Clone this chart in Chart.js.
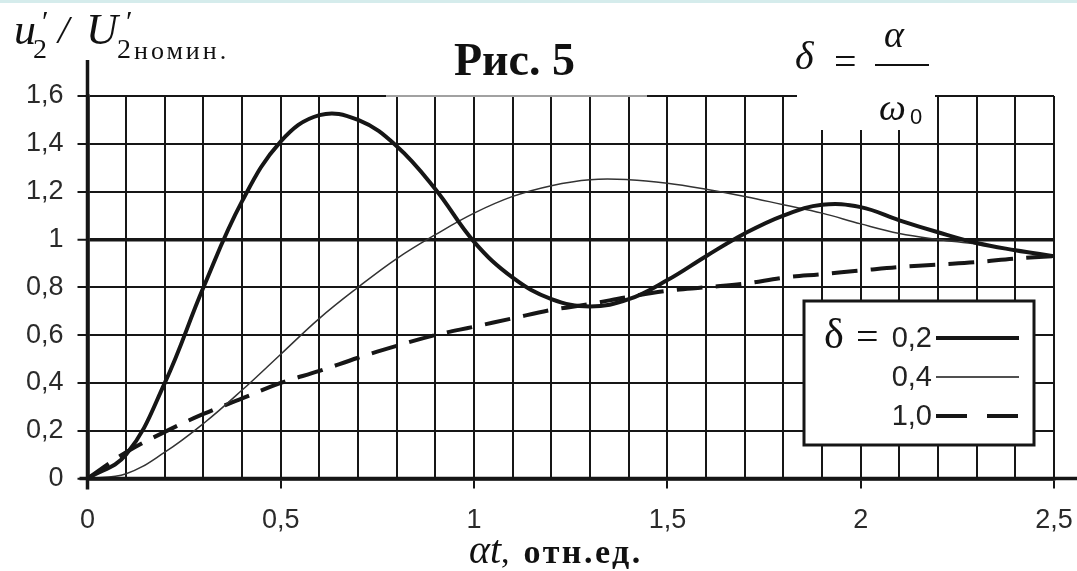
<!DOCTYPE html>
<html>
<head>
<meta charset="utf-8">
<script src="https://cdn.jsdelivr.net/npm/chart.js@4.4.0/dist/chart.umd.min.js"></script>
<style>
  body { margin: 0; background: #fff; }
  #wrap { position: relative; width: 1077px; height: 571px; overflow: hidden; background: #fff; }
  #band { position: absolute; left: 0; top: 0; width: 1077px; height: 3px; background: #d5ecec; }
  canvas { position: absolute; left: 0; top: 0; }
  .t { position: absolute; line-height: 1; white-space: nowrap; color: #111; font-family: "Liberation Serif", "Times New Roman", serif; }
  .it { font-style: italic; }
  #figbox { position: absolute; left: 386px; top: 8px; width: 261px; height: 89px; background: rgba(255,255,255,0.6); }
  #formbox { position: absolute; left: 797px; top: 8px; width: 138px; height: 122px; background: #fff; }
  #bar { position: absolute; left: 875px; top: 64px; width: 54px; height: 2px; background: #111; }
</style>
</head>
<body>
<div id="wrap">
  <canvas id="chart" width="1077" height="571"></canvas>
  <div id="band"></div>
  <div id="figbox"></div>
  <div id="formbox"></div>

  <!-- y axis title -->
  <span class="t it" style="left:14px; top:8px; font-size:44px;">u</span>
  <span class="t" style="left:42px; top:6px; font-size:30px;">′</span>
  <span class="t" style="left:33px; top:35px; font-size:28px;">2</span>
  <span class="t it" style="left:58px; top:10px; font-size:40px;">/</span>
  <span class="t it" style="left:86px; top:8px; font-size:44px;">U</span>
  <span class="t" style="left:126px; top:6px; font-size:30px;">′</span>
  <span class="t" style="left:117px; top:35px; font-size:28px;">2</span>
  <span class="t" style="left:134px; top:38px; font-size:26px; letter-spacing:3px;">номин.</span>

  <!-- title -->
  <span class="t" style="left:454px; top:37px; font-size:46px; font-weight:bold;">Рис. 5</span>

  <!-- formula -->
  <span class="t it" style="left:795px; top:36px; font-size:40px;">δ</span>
  <span class="t" style="left:834px; top:42px; font-size:40px;">=</span>
  <span class="t it" style="left:884px; top:15px; font-size:38px;">α</span>
  <div id="bar"></div>
  <span class="t it" style="left:879px; top:88px; font-size:38px;">ω</span>
  <span class="t" style="left:910px; top:106px; font-size:22px; font-family:'Liberation Sans', Arial, sans-serif;">0</span>

  <!-- x axis title -->
  <div class="t" style="left:469px; top:530px;">
    <span class="it" style="font-size:40px;">αt</span><span style="font-size:34px;">,</span><span style="font-size:34px; font-weight:bold; letter-spacing:2.5px; margin-left:14px;">отн.ед.</span>
  </div>
</div>

<script>
// time axis, αt (relative units)
const t = [0, 0.1, 0.2, 0.3, 0.4, 0.5, 0.6, 0.7, 0.8, 0.9, 1.0, 1.1, 1.2,
           1.3, 1.4, 1.5, 1.6, 1.7, 1.8, 1.9, 2.0, 2.1, 2.2, 2.3, 2.4, 2.5];

// u2 / U2nom for each damping ratio
const delta02 = [0, 0.10, 0.40, 0.80, 1.16, 1.41, 1.52, 1.50, 1.39, 1.21, 0.99, 0.84, 0.75,
                 0.72, 0.75, 0.83, 0.93, 1.025, 1.10, 1.145, 1.135, 1.08, 1.03, 0.985, 0.955, 0.93];
const delta04 = [0, 0.02, 0.11, 0.23, 0.37, 0.52, 0.67, 0.80, 0.92, 1.02, 1.11, 1.18, 1.225,
                 1.25, 1.25, 1.235, 1.21, 1.18, 1.145, 1.11, 1.065, 1.025, 1.0, 0.98, 0.955, 0.925];
const delta10 = [0, 0.11, 0.195, 0.27, 0.335, 0.40, 0.45, 0.505, 0.555, 0.60, 0.635, 0.67, 0.705,
                 0.73, 0.76, 0.785, 0.80, 0.815, 0.84, 0.855, 0.87, 0.885, 0.895, 0.905, 0.92, 0.93];

const seriesLabels = ['0,2', '0,4', '1,0'];
const legendPrefix = 'δ =';

const INK = '#161616';

function pts(arr) {
    return t.map((x, i) => ({ x: x, y: arr[i] }));
}

function isHalf(v) {
    return Math.abs(v * 2 - Math.round(v * 2)) < 1e-6;
}

function fmt(v) {
    const r = Math.round(v * 10) / 10;
    return String(r).replace('.', ',');
}

// axis extension + legend box
const extras = {
    id: 'extras',
    afterDraw(chart) {
        const ctx = chart.ctx;
        const a = chart.chartArea;
        ctx.save();
        ctx.strokeStyle = INK;
        ctx.lineWidth = 3.5;
        ctx.beginPath();
        ctx.moveTo(a.left, a.top - 36);
        ctx.lineTo(a.left, a.bottom + 11);
        ctx.moveTo(a.left - 8, a.bottom);
        ctx.lineTo(chart.width, a.bottom);
        ctx.stroke();

        // legend
        const bx = a.right - 250, by = 301, bw = 230, bh = 144;
        ctx.fillStyle = '#fff';
        ctx.fillRect(bx, by, bw, bh);
        ctx.lineWidth = 3;
        ctx.strokeRect(bx, by, bw, bh);

        chart.data.datasets.forEach((d, i) => {
            const y = by + 37 + i * 39;
            ctx.fillStyle = '#222';
            ctx.textBaseline = 'middle';
            ctx.textAlign = 'right';
            ctx.font = '29px "Liberation Sans", Arial, sans-serif';
            ctx.fillText(d.label, bx + 128, y + 1);

            ctx.strokeStyle = INK;
            ctx.lineWidth = d.borderWidth;
            ctx.setLineDash(d.borderDash ? [31, 20] : []);
            ctx.beginPath();
            ctx.moveTo(bx + 132, y);
            ctx.lineTo(bx + 215, y);
            ctx.stroke();
            ctx.setLineDash([]);
        });
        const parts = legendPrefix.split(' ');
        ctx.fillStyle = '#111';
        ctx.textAlign = 'left';
        ctx.textBaseline = 'middle';
        ctx.font = '42px "Liberation Serif", "Times New Roman", serif';
        ctx.fillText(parts[0], bx + 20, by + 36);
        ctx.font = '40px "Liberation Serif", "Times New Roman", serif';
        ctx.fillText(parts[1], bx + 52, by + 38);
        ctx.restore();
    }
};

const chart = new Chart(document.getElementById('chart'), {
    type: 'line',
    data: {
        datasets: [
            { label: seriesLabels[0], data: pts(delta02), borderColor: INK, borderWidth: 4 },
            { label: seriesLabels[1], data: pts(delta04), borderColor: '#333', borderWidth: 1.5 },
            { label: seriesLabels[2], data: pts(delta10), borderColor: INK, borderWidth: 4, borderDash: [26, 13] }
        ]
    },
    options: {
        responsive: false,
        animation: false,
        layout: { padding: { top: 96, right: 23, left: 0, bottom: 0 } },
        elements: { point: { radius: 0 }, line: { tension: 0.4, fill: false } },
        plugins: { legend: { display: false }, tooltip: { enabled: false } },
        scales: {
            x: {
                type: 'linear', min: 0, max: 2.5,
                afterFit(s) { s.height = 92.5; s.paddingLeft = 0; s.paddingRight = 0; },
                ticks: {
                    stepSize: 0.1, autoSkip: false, maxRotation: 0, padding: 16,
                    color: '#2a2a2a',
                    font: { family: '"Liberation Sans", Arial, sans-serif', size: 27 },
                    callback: v => isHalf(v) ? fmt(v) : ''
                },
                grid: {
                    color: INK,
                    lineWidth: c => (c.tick && Math.abs(c.tick.value) < 1e-6) ? 3.5 : 2,
                    tickLength: 10,
                    tickWidth: 2,
                    tickColor: c => (c.tick && isHalf(c.tick.value)) ? INK : 'rgba(0,0,0,0)'
                },
                border: { color: INK, width: 3.5 }
            },
            y: {
                min: 0, max: 1.6,
                afterFit(s) { s.width = 87.5; s.paddingTop = 0; s.paddingBottom = 0; },
                ticks: {
                    stepSize: 0.2, padding: 14, color: '#2a2a2a',
                    font: { family: '"Liberation Sans", Arial, sans-serif', size: 27 },
                    callback: v => fmt(v)
                },
                grid: {
                    color: INK,
                    lineWidth: c => (c.tick && (Math.abs(c.tick.value - 1) < 1e-6 || Math.abs(c.tick.value) < 1e-6)) ? 3.5 : 2,
                    tickLength: 10,
                    tickWidth: 2
                },
                border: { color: INK, width: 3.5 }
            }
        }
    },
    plugins: [extras]
});
</script>
</body>
</html>
